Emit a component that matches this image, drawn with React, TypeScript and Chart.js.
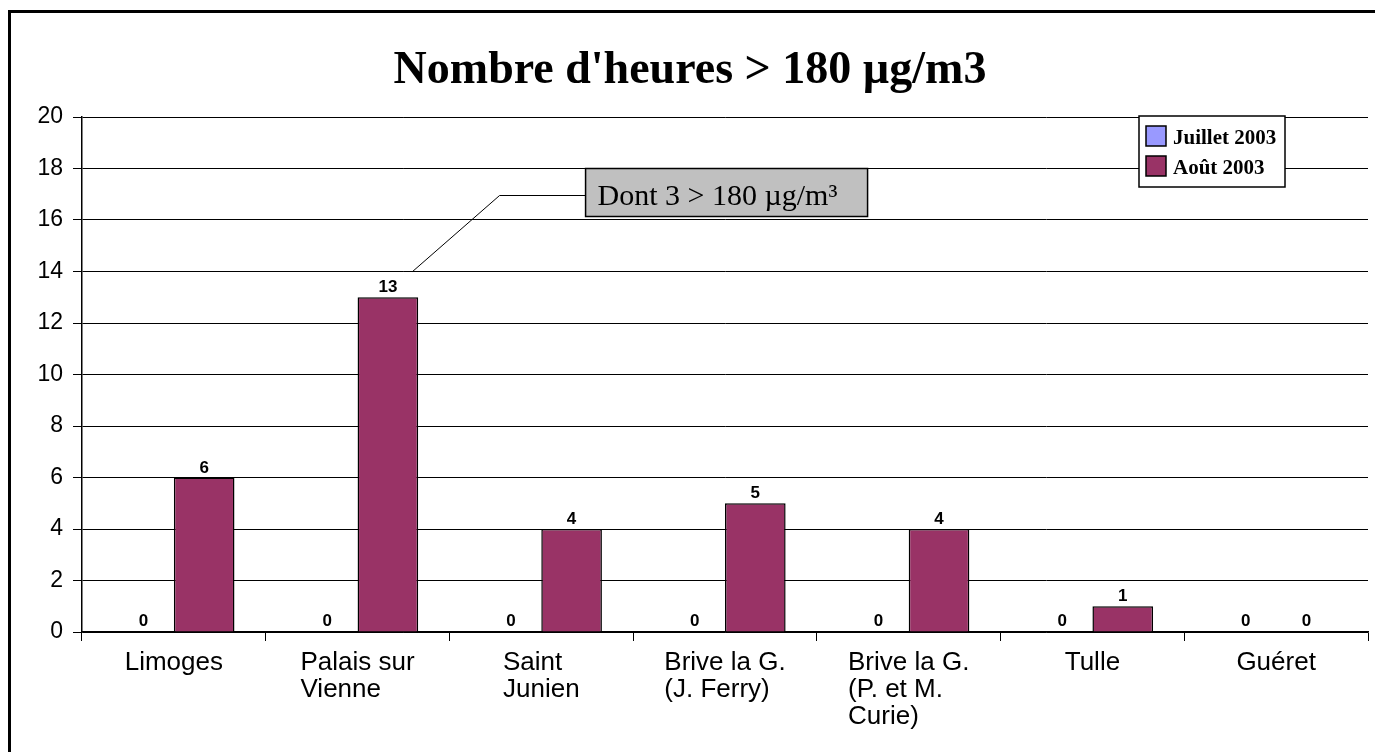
import React, { useEffect, useRef } from 'react';
import { Chart, registerables } from 'chart.js';

Chart.register(...registerables);

const TITLE = "Nombre d'heures > 180 µg/m3";
const categories: string[][] = [
  ['Limoges'],
  ['Palais sur', 'Vienne'],
  ['Saint', 'Junien'],
  ['Brive la G.', '(J. Ferry)'],
  ['Brive la G.', '(P. et M.', 'Curie)'],
  ['Tulle'],
  ['Guéret'],
];
const seriesNames = ['Juillet 2003', 'Août 2003'];
const seriesColors = ['#9999ff', '#993366'];
const juillet = [0, 0, 0, 0, 0, 0, 0];
const aout = [6, 13, 4, 5, 4, 1, 0];
const yMin = 0;
const yMax = 20;
const yStep = 2;
const calloutText = 'Dont 3 > 180 µg/m³';
const calloutCategory = 1;
const calloutValue = 14;
const calloutBoxTopValue = 18;

const SANS = '"Liberation Sans", Arial, sans-serif';
const SERIF = '"Liberation Serif", "Times New Roman", serif';

const drawPlugin = {
  id: 'customDraw',
  beforeDraw(chart: any) {
    const ctx = chart.ctx;
    ctx.save();
    ctx.fillStyle = '#ffffff';
    ctx.fillRect(0, 0, chart.width, chart.height);
    ctx.fillStyle = '#000000';
    ctx.fillRect(0, 2, chart.width, 3);
    ctx.fillRect(0, 2, 3, chart.height);
    // title
    ctx.font = 'bold 46px ' + SERIF;
    ctx.textAlign = 'center';
    ctx.textBaseline = 'alphabetic';
    ctx.fillText(TITLE, 682, 75);
    ctx.restore();
  },
  afterDraw(chart: any) {
    const ctx = chart.ctx;
    const xs = chart.scales.x;
    const ys = chart.scales.y;
    const area = chart.chartArea;
    ctx.save();

    // value labels
    ctx.font = 'bold 17px ' + SANS;
    ctx.textAlign = 'center';
    ctx.textBaseline = 'alphabetic';
    ctx.fillStyle = '#000';
    chart.data.datasets.forEach((ds: any, di: number) => {
      const meta = chart.getDatasetMeta(di);
      meta.data.forEach((el: any, i: number) => {
        const v = ds.data[i];
        const off = v === 0 ? 6 : 5;
        ctx.fillText(String(v), el.x, el.y - off);
      });
    });

    // x labels, left aligned lines in centered block
    ctx.font = '26px ' + SANS;
    ctx.textAlign = 'left';
    categories.forEach((lines, i) => {
      const cx = xs.getPixelForValue(i);
      const w = Math.max(...lines.map((l) => ctx.measureText(l).width));
      const left = cx - w / 2;
      lines.forEach((l, j) => {
        ctx.fillText(l, left, area.bottom + 38 + j * 27);
      });
    });

    // legend
    const lx = 1131;
    const ly = 108;
    const lw = 146;
    const lh = 71;
    ctx.fillStyle = '#fff';
    ctx.fillRect(lx, ly, lw, lh);
    ctx.strokeStyle = '#000';
    ctx.lineWidth = 1.5;
    ctx.strokeRect(lx, ly, lw, lh);
    ctx.font = 'bold 21px ' + SERIF;
    ctx.textAlign = 'left';
    seriesNames.forEach((name, i) => {
      const sy = ly + 10 + i * 30;
      ctx.fillStyle = seriesColors[i];
      ctx.fillRect(lx + 7, sy, 20, 20);
      ctx.strokeStyle = '#000';
      ctx.lineWidth = 1.5;
      ctx.strokeRect(lx + 7, sy, 20, 20);
      ctx.fillStyle = '#000';
      ctx.fillText(name, lx + 34, sy + 18);
    });

    // callout
    const cx = xs.getPixelForValue(calloutCategory);
    const endX = cx + 55;
    const endY = ys.getPixelForValue(calloutValue);
    const boxTop = ys.getPixelForValue(calloutBoxTopValue);
    const boxH = 48;
    const boxL = cx + 228;
    const boxW = 282;
    const midY = boxTop + 27;
    ctx.strokeStyle = '#000';
    ctx.lineWidth = 1;
    ctx.beginPath();
    ctx.moveTo(boxL, midY);
    ctx.lineTo(cx + 142, midY);
    ctx.lineTo(endX, endY);
    ctx.stroke();
    ctx.fillStyle = '#c0c0c0';
    ctx.fillRect(boxL, boxTop, boxW, boxH);
    ctx.lineWidth = 1.5;
    ctx.strokeRect(boxL, boxTop, boxW, boxH);
    ctx.fillStyle = '#000';
    ctx.font = '30px ' + SERIF;
    ctx.textAlign = 'left';
    ctx.fillText(calloutText, boxL + 12, boxTop + 36);

    ctx.restore();
  },
};

export default function App() {
  const ref = useRef<HTMLCanvasElement | null>(null);
  useEffect(() => {
    if (!ref.current) return;
    const chart = new Chart(ref.current, {
      type: 'bar',
      data: {
        labels: categories.map((c) => c.join(' ')),
        datasets: [
          {
            label: seriesNames[0],
            data: juillet,
            backgroundColor: seriesColors[0],
            borderColor: '#000',
            borderWidth: 1,
            categoryPercentage: 0.66,
            barPercentage: 1,
          },
          {
            label: seriesNames[1],
            data: aout,
            backgroundColor: seriesColors[1],
            borderColor: '#000',
            borderWidth: 1.5,
            categoryPercentage: 0.66,
            barPercentage: 1,
          },
        ],
      },
      options: {
        animation: false,
        responsive: true,
        maintainAspectRatio: false,
        layout: { padding: { left: 0, right: 15, top: 109, bottom: 0 } },
        plugins: {
          legend: { display: false },
          title: { display: false },
          tooltip: { enabled: false },
        },
        scales: {
          x: {
            afterFit: (s: any) => {
              s.height = 120;
            },
            grid: {
              offset: true,
              drawOnChartArea: false,
              drawTicks: true,
              tickLength: 9,
              color: '#000',
              lineWidth: 1,
            },
            border: { display: true, color: '#000', width: 1.5 },
            ticks: { display: false },
          },
          y: {
            min: yMin,
            max: yMax,
            afterFit: (s: any) => {
              s.width = 74;
            },
            ticks: {
              stepSize: yStep,
              padding: 10,
              color: '#000',
              font: { family: SANS, size: 23 },
            },
            grid: {
              color: '#000',
              lineWidth: 1,
              drawTicks: true,
              tickLength: 9,
            },
            border: { display: true, color: '#000', width: 1.5 },
          },
        },
      },
      plugins: [drawPlugin],
    });
    return () => chart.destroy();
  }, []);
  return (
    <div style={{ width: 1375, height: 744, position: 'relative' }}>
      <canvas ref={ref} />
    </div>
  );
}
